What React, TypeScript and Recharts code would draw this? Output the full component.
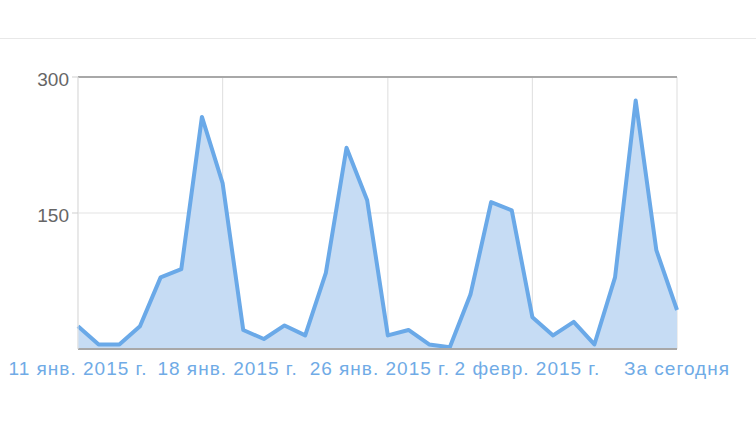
import {
  AreaChart,
  Area,
  XAxis,
  YAxis,
  CartesianGrid,
  ReferenceLine,
} from "recharts";

const days = [
  "11 янв. 2015 г.", "12 янв. 2015 г.", "13 янв. 2015 г.", "14 янв. 2015 г.",
  "15 янв. 2015 г.", "16 янв. 2015 г.", "17 янв. 2015 г.", "18 янв. 2015 г.",
  "19 янв. 2015 г.", "20 янв. 2015 г.", "21 янв. 2015 г.", "22 янв. 2015 г.",
  "23 янв. 2015 г.", "24 янв. 2015 г.", "25 янв. 2015 г.", "26 янв. 2015 г.",
  "27 янв. 2015 г.", "28 янв. 2015 г.", "29 янв. 2015 г.", "30 янв. 2015 г.",
  "31 янв. 2015 г.", "1 февр. 2015 г.", "2 февр. 2015 г.", "3 февр. 2015 г.",
  "4 февр. 2015 г.", "5 февр. 2015 г.", "6 февр. 2015 г.", "7 февр. 2015 г.",
  "8 февр. 2015 г.", "За сегодня",
];

const visits = [
  25, 5, 5, 25, 79, 88, 256, 183, 21, 11,
  26, 15, 84, 222, 164, 15, 21, 5, 2, 60,
  162, 153, 35, 15, 30, 5, 79, 274, 109, 43,
];

const xTicks = [
  "11 янв. 2015 г.", "18 янв. 2015 г.", "26 янв. 2015 г.",
  "2 февр. 2015 г.", "За сегодня",
];
const yTicks = [150, 300];

const data = days.map((day, i) => ({ day, visits: visits[i] }));

// google charts nudges some date labels sideways so they don't collide
const labelShift: Record<string, number> = {
  "18 янв. 2015 г.": 5,
  "26 янв. 2015 г.": -8,
  "2 февр. 2015 г.": -5,
};

const FONT = "'Liberation Sans', Arial, Helvetica, sans-serif";

function DateTick(props: any) {
  const { x, y, payload } = props;
  const label = payload.value as string;
  return (
    <text
      x={x + (labelShift[label] ?? 0)}
      y={y}
      dy="0.71em"
      textAnchor="middle"
      fill="#70abe6"
      fontSize={19}
      letterSpacing={1}
      fontFamily={FONT}
    >
      {label}
    </text>
  );
}

export default function App() {
  return (
    <div
      style={{
        position: "absolute",
        left: 0,
        top: 0,
        width: 756,
        height: 422,
        background: "#fff",
      }}
    >
      <div
        style={{
          position: "absolute",
          left: 0,
          top: 38,
          width: 756,
          borderTop: "1px solid #e8e8e8",
        }}
      />
      <AreaChart
        width={756}
        height={422}
        data={data}
        margin={{ top: 77, right: 79, bottom: 43, left: 0 }}
      >
        <CartesianGrid stroke="#e3e3e3" strokeWidth={1.2} />
        <XAxis
          dataKey="day"
          ticks={xTicks}
          interval={0}
          tickSize={0}
          tickMargin={13}
          tick={<DateTick />}
          axisLine={{ stroke: "#a8a8a8", strokeWidth: 2 }}
          height={30}
        />
        <YAxis
          domain={[0, 300]}
          ticks={yTicks}
          width={78}
          tickSize={6}
          tickMargin={3}
          axisLine={{ stroke: "#e3e3e3" }}
          tickLine={{ stroke: "#cfcfcf" }}
          tick={{ fill: "#666", fontSize: 19, fontFamily: FONT, dy: 2 }}
        />
        <Area
          type="linear"
          dataKey="visits"
          stroke="#6aa9e8"
          strokeWidth={4}
          strokeLinejoin="round"
          fill="#c6dcf4"
          fillOpacity={1}
          isAnimationActive={false}
          dot={false}
          activeDot={false}
        />
        <ReferenceLine y={300} stroke="#a8a8a8" strokeWidth={2} />
      </AreaChart>
    </div>
  );
}
